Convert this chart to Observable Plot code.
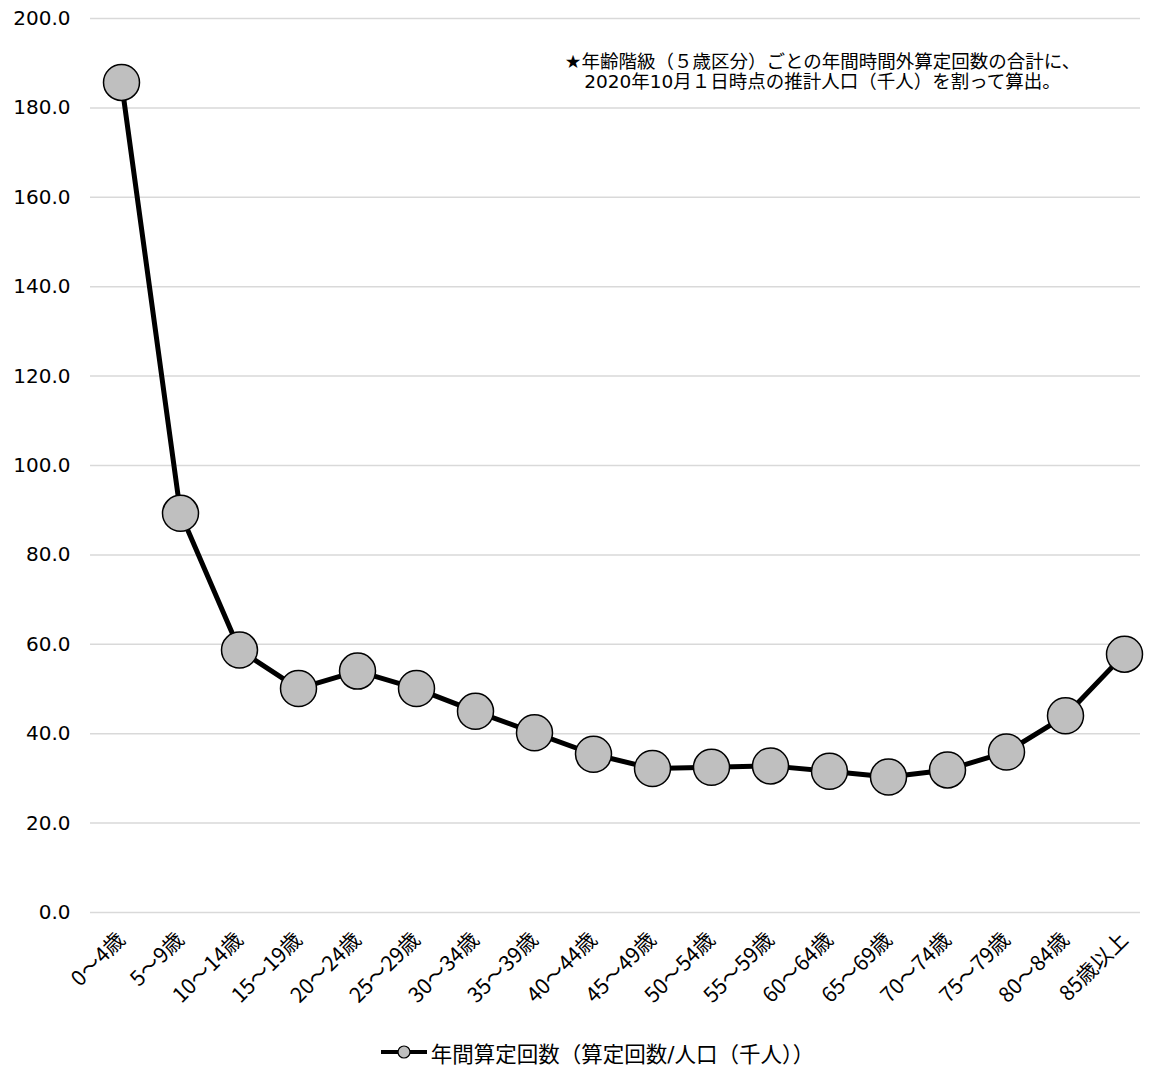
<!DOCTYPE html>
<html lang="ja">
<head>
<meta charset="utf-8">
<script src="https://cdn.jsdelivr.net/npm/d3@7"></script>
<script src="https://cdn.jsdelivr.net/npm/@observablehq/plot@0.6"></script>
<style>
  body { margin: 0; background: #fff; font-family: "DejaVu Sans", "Noto Sans CJK JP", sans-serif; }
  #chart { width: 1156px; }
  .legend { height: 44px; display: flex; align-items: center; justify-content: center; font-size: 21.5px; color: #000; padding-left: 38px; }
  .legend svg { margin-right: 3px; }
</style>
</head>
<body>
<div id="chart"></div>
<script>
// 年齢階級（5歳区分）
const ageGroups = [
  "0〜4歳", "5〜9歳", "10〜14歳", "15〜19歳", "20〜24歳", "25〜29歳",
  "30〜34歳", "35〜39歳", "40〜44歳", "45〜49歳", "50〜54歳", "55〜59歳",
  "60〜64歳", "65〜69歳", "70〜74歳", "75〜79歳", "80〜84歳", "85歳以上"
];
// 年間算定回数（算定回数/人口（千人））
const ratePerThousand = [
  185.7, 89.3, 58.7, 50.1, 54.0, 50.1, 45.0, 40.2, 35.4,
  32.2, 32.5, 32.8, 31.6, 30.3, 31.9, 35.9, 44.0, 57.8
];
const yTicks = [0, 20, 40, 60, 80, 100, 120, 140, 160, 180, 200];
const seriesName = "年間算定回数（算定回数/人口（千人））";
const noteLines = [
  "★年齢階級（５歳区分）ごとの年間時間外算定回数の合計に、",
  "2020年10月１日時点の推計人口（千人）を割って算出。"
];

const rows = ageGroups.map((age, i) => ({ age, value: ratePerThousand[i] }));

const chart = Plot.plot({
  width: 1156,
  height: 1030,
  marginLeft: 90,
  marginRight: 16,
  marginTop: 18,
  marginBottom: 118,
  style: { fontFamily: "'DejaVu Sans', 'Noto Sans CJK JP', sans-serif", color: "#000", background: "#fff" },
  x: { type: "point", domain: ageGroups, padding: 0, insetLeft: 30, insetRight: 15 },
  y: { domain: [0, 200] },
  marks: [
    Plot.ruleY(yTicks, { stroke: "#d9d9d9", strokeWidth: 1.5 }),
    Plot.axisY(yTicks, {
      tickSize: 0, tickPadding: 20, fontSize: 20, label: null,
      tickFormat: d3.format(".1f")
    }),
    Plot.axisX({
      tickSize: 0, tickRotate: -45, tickPadding: 24, fontSize: 21, label: null,
      fontFamily: "'Noto Sans CJK JP', sans-serif"
    }),
    Plot.line(rows, { x: "age", y: "value", stroke: "#000", strokeWidth: 5, strokeLinejoin: "round" }),
    Plot.dot(rows, { x: "age", y: "value", r: 18, fill: "#bfbfbf", stroke: "#000", strokeWidth: 1.5 }),
    Plot.text([noteLines.join("\n")], {
      frameAnchor: "top-right", textAnchor: "middle", dx: -318, dy: 35,
      fontSize: 18.5, lineHeight: 1.1, fill: "#000"
    })
  ]
});
document.getElementById("chart").appendChild(chart);

// 凡例
const legend = document.createElement("div");
legend.className = "legend";
legend.innerHTML =
  `<svg width="48" height="20"><line x1="1" y1="10" x2="47" y2="10" stroke="#000" stroke-width="4"/>` +
  `<circle cx="24" cy="10" r="6" fill="#bfbfbf" stroke="#000" stroke-width="1.2"/></svg>` +
  `<span>${seriesName}</span>`;
document.body.appendChild(legend);
</script>
</body>
</html>
